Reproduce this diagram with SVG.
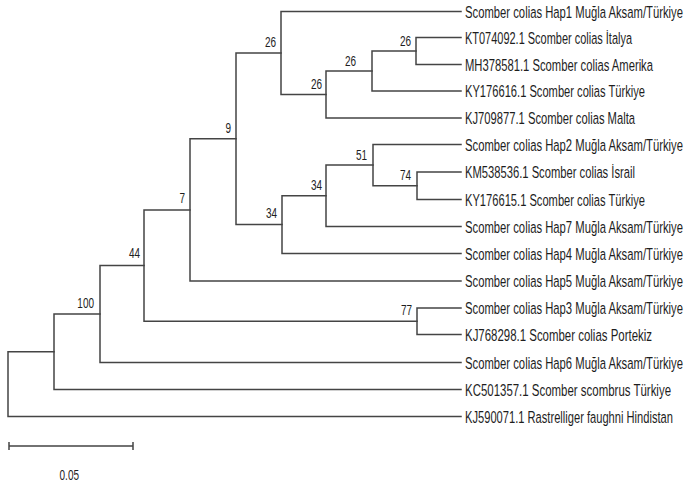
<svg xmlns="http://www.w3.org/2000/svg" width="695" height="487" viewBox="0 0 695 487">
<style>
.br{fill:none;stroke:#444;stroke-width:1.5;stroke-linecap:square}
.lf{font-family:"Liberation Sans",Arial,sans-serif;font-size:11.2px;fill:#1e1e1e}
.bs{font-family:"Liberation Sans",Arial,sans-serif;font-size:10px;fill:#1e1e1e;text-anchor:end}
</style>
<rect width="695" height="487" fill="#fff"/>
<g id="connectors">
<path class="br" d="M416 51V37.5H461M416 51V64.5H461"/>
<path class="br" d="M372 71V51H416M372 71V91H461"/>
<path class="br" d="M326 94.5V71H372M326 94.5V118H461"/>
<path class="br" d="M281 53V11.5H461M281 53V94.5H326"/>
<path class="br" d="M417 185.75V172H461M417 185.75V199.5H461"/>
<path class="br" d="M373 165V144.5H461M373 165V185.75H417"/>
<path class="br" d="M326 195.75V165H373M326 195.75V226.5H461"/>
<path class="br" d="M282 224.6V195.75H326M282 224.6V253.5H461"/>
<path class="br" d="M236 138.8V53H281M236 138.8V224.6H282"/>
<path class="br" d="M190 209.9V138.8H236M190 209.9V281H461"/>
<path class="br" d="M417 321.25V308H461M417 321.25V334.5H461"/>
<path class="br" d="M144 265.6V209.9H190M144 265.6V321.25H417"/>
<path class="br" d="M100 314V265.6H144M100 314V362.5H461"/>
<path class="br" d="M54 351.75V314H100M54 351.75V389.5H461"/>
<path class="br" d="M8 384V351.75H54M8 384V416.5H461"/>
</g>
<g id="leaf-hap1"><text class="lf" transform="matrix(1 0 0 1.45 465 17.5)" textLength="218" lengthAdjust="spacingAndGlyphs">Scomber colias Hap1 Muğla Aksam/Türkiye</text></g>
<g id="leaf-kt074092"><text class="lf" transform="matrix(1 0 0 1.45 465 43.5)" textLength="167" lengthAdjust="spacingAndGlyphs">KT074092.1 Scomber colias İtalya</text></g>
<g id="leaf-mh378581"><text class="lf" transform="matrix(1 0 0 1.45 465 70.5)" textLength="188" lengthAdjust="spacingAndGlyphs">MH378581.1 Scomber colias Amerika</text></g>
<g id="leaf-ky176616"><text class="lf" transform="matrix(1 0 0 1.45 465 97)" textLength="180" lengthAdjust="spacingAndGlyphs">KY176616.1 Scomber colias Türkiye</text></g>
<g id="leaf-kj709877"><text class="lf" transform="matrix(1 0 0 1.45 465 124)" textLength="170" lengthAdjust="spacingAndGlyphs">KJ709877.1 Scomber colias Malta</text></g>
<g id="leaf-hap2"><text class="lf" transform="matrix(1 0 0 1.45 465 150.5)" textLength="218" lengthAdjust="spacingAndGlyphs">Scomber colias Hap2 Muğla Aksam/Türkiye</text></g>
<g id="leaf-km538536"><text class="lf" transform="matrix(1 0 0 1.45 465 178)" textLength="170" lengthAdjust="spacingAndGlyphs">KM538536.1 Scomber colias İsrail</text></g>
<g id="leaf-ky176615"><text class="lf" transform="matrix(1 0 0 1.45 465 205.5)" textLength="180" lengthAdjust="spacingAndGlyphs">KY176615.1 Scomber colias Türkiye</text></g>
<g id="leaf-hap7"><text class="lf" transform="matrix(1 0 0 1.45 465 232.5)" textLength="218" lengthAdjust="spacingAndGlyphs">Scomber colias Hap7 Muğla Aksam/Türkiye</text></g>
<g id="leaf-hap4"><text class="lf" transform="matrix(1 0 0 1.45 465 259.5)" textLength="218" lengthAdjust="spacingAndGlyphs">Scomber colias Hap4 Muğla Aksam/Türkiye</text></g>
<g id="leaf-hap5"><text class="lf" transform="matrix(1 0 0 1.45 465 287)" textLength="218" lengthAdjust="spacingAndGlyphs">Scomber colias Hap5 Muğla Aksam/Türkiye</text></g>
<g id="leaf-hap3"><text class="lf" transform="matrix(1 0 0 1.45 465 314)" textLength="218" lengthAdjust="spacingAndGlyphs">Scomber colias Hap3 Muğla Aksam/Türkiye</text></g>
<g id="leaf-kj768298"><text class="lf" transform="matrix(1 0 0 1.45 465 340.5)" textLength="187" lengthAdjust="spacingAndGlyphs">KJ768298.1 Scomber colias Portekiz</text></g>
<g id="leaf-hap6"><text class="lf" transform="matrix(1 0 0 1.45 465 368.5)" textLength="218" lengthAdjust="spacingAndGlyphs">Scomber colias Hap6 Muğla Aksam/Türkiye</text></g>
<g id="leaf-kc501357"><text class="lf" transform="matrix(1 0 0 1.45 465 395.5)" textLength="206" lengthAdjust="spacingAndGlyphs">KC501357.1 Scomber scombrus Türkiye</text></g>
<g id="leaf-kj590071"><text class="lf" transform="matrix(1 0 0 1.45 465 422.5)" textLength="208" lengthAdjust="spacingAndGlyphs">KJ590071.1 Rastrelliger faughni Hindistan</text></g>
<g id="node-26d"><text class="bs" transform="matrix(1 0 0 1.5 411 46)">26</text></g>
<g id="node-26c"><text class="bs" transform="matrix(1 0 0 1.5 356 66)">26</text></g>
<g id="node-26b"><text class="bs" transform="matrix(1 0 0 1.5 322 89)">26</text></g>
<g id="node-26a"><text class="bs" transform="matrix(1 0 0 1.5 276 47)">26</text></g>
<g id="node-74"><text class="bs" transform="matrix(1 0 0 1.5 411 180)">74</text></g>
<g id="node-51"><text class="bs" transform="matrix(1 0 0 1.5 367 160)">51</text></g>
<g id="node-34b"><text class="bs" transform="matrix(1 0 0 1.5 322 190)">34</text></g>
<g id="node-34a"><text class="bs" transform="matrix(1 0 0 1.5 277 218)">34</text></g>
<g id="node-9"><text class="bs" transform="matrix(1 0 0 1.5 231 133)">9</text></g>
<g id="node-7"><text class="bs" transform="matrix(1 0 0 1.5 185 203)">7</text></g>
<g id="node-77"><text class="bs" transform="matrix(1 0 0 1.5 412 315)">77</text></g>
<g id="node-44"><text class="bs" transform="matrix(1 0 0 1.5 140 258)">44</text></g>
<g id="node-100"><text class="bs" transform="matrix(1 0 0 1.5 94 308)">100</text></g>
<g id="node-a"></g>
<g id="node-root"></g>
<g id="scale-bar">
<path class="br" d="M9 446H133M9 442V450M133 442V450" style="stroke-linecap:butt"/>
<text class="bs" transform="matrix(1 0 0 1.5 79 480)">0.05</text>
</g>
</svg>
